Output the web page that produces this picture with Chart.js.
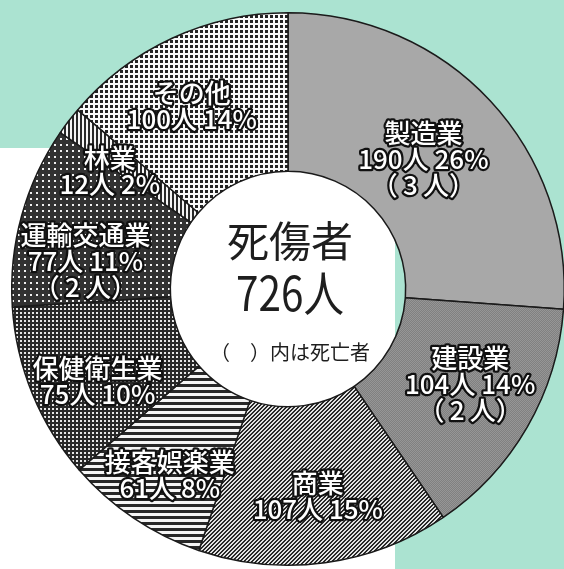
<!DOCTYPE html>
<html>
<head>
<meta charset="utf-8">
<script src="https://cdn.jsdelivr.net/npm/chart.js@4"></script>
<style>
  html, body { margin: 0; padding: 0; overflow: hidden; background: #abe3d1; }
  #wrap { position: relative; width: 564px; height: 569px; overflow: hidden; }
  #paper { position: absolute; left: 0; top: 148px; width: 395px; height: 421px; background: #fff; }
  #myChart { position: absolute; left: 0; top: 0; }
</style>
</head>
<body>
<div id="wrap">
  <div id="paper"></div>
  <canvas id="myChart" width="580" height="569"></canvas>
</div>
<script>
var labels = ['製造業', '建設業', '商業', '接客娯楽業', '保健衛生業', '運輸交通業', '林業', 'その他'];
var persons = [190, 104, 107, 61, 75, 77, 12, 100];
var shares = [26, 14, 15, 8, 10, 11, 2, 14];
var deaths = [3, 2, null, null, null, 2, null, null];

// small offsets so the labels sit where the printed ones do
var labelNudge = [[-17, 12], [2, -9], [2, 1], [-2, 14], [2, 13], [-2, 27], [-13, 9], [-9, 6]];

function tile(w, h, fn) {
    var c = document.createElement('canvas');
    c.width = w; c.height = h;
    var g = c.getContext('2d');
    var img = g.createImageData(w, h);
    for (var y = 0; y < h; y++) {
        for (var x = 0; x < w; x++) {
            var v = fn(x, y);
            var i = (y * w + x) * 4;
            img.data[i] = v; img.data[i + 1] = v; img.data[i + 2] = v; img.data[i + 3] = 255;
        }
    }
    g.putImageData(img, 0, 0);
    return g.createPattern(c, 'repeat');
}

var ctx = document.getElementById('myChart').getContext('2d');
var dark = 40, light = 225;

var fills = [
    '#a8a8a8',
    tile(2, 2, function (x, y) { return (x + y) % 2 ? 128 : 150; }),
    tile(4, 4, function (x, y) { return (x + y) % 4 < 2 ? dark : light; }),
    tile(1, 6, function (x, y) { return y < 3 ? dark : 245; }),
    tile(4, 4, function (x, y) { return (x < 2 && y < 2) ? 230 : 40; }),
    tile(6, 6, function (x, y) { return (x < 2 && y < 2) ? 240 : 50; }),
    tile(4, 1, function (x, y) { return x < 2 ? dark : 245; }),
    tile(5, 5, function (x, y) { return (x < 3 && y < 3) ? 35 : 250; })
];

var total = persons.reduce(function (a, b) { return a + b; }, 0);

function outlined(c, text, x, y) {
    c.strokeText(text, x, y);
    c.fillText(text, x, y);
}

var labelPlugin = {
    id: 'sliceLabels',
    afterDatasetsDraw: function (chart) {
        var c = chart.ctx;
        var arcs = chart.getDatasetMeta(0).data;
        c.save();
        c.textAlign = 'center';
        c.textBaseline = 'middle';
        c.font = '500 26px "Noto Sans CJK JP"';
        c.lineJoin = 'round';
        c.lineWidth = 4.5;
        c.strokeStyle = '#111';
        c.fillStyle = '#fff';
        arcs.forEach(function (arc, i) {
            var p = arc.getProps(['x', 'y', 'startAngle', 'endAngle']);
            var mid = (p.startAngle + p.endAngle) / 2;
            var r = 208;
            var cx = p.x + Math.cos(mid) * r + labelNudge[i][0];
            var cy = p.y + Math.sin(mid) * r + labelNudge[i][1];
            var lines = [labels[i], persons[i] + '人 ' + shares[i] + '%'];
            if (deaths[i] != null) lines.push('（\u2009' + deaths[i] + '\u2009人）');
            var lh = 26;
            var y0 = cy - (lines.length - 1) * lh / 2;
            lines.forEach(function (t, k) { outlined(c, t, cx, y0 + k * lh); });
        });
        // centre text
        var a0 = arcs[0];
        var mx = a0.x + 2;
        c.fillStyle = '#1e1e1e';
        c.font = '42px "Noto Sans CJK JP"';
        c.fillText('死傷者', mx, a0.y - 48);
        c.save();
        c.translate(mx, a0.y + 4);
        c.scale(0.88, 1.05);
        c.font = '46px "Noto Sans CJK JP"';
        c.fillText(total + '人', 0, 0);
        c.restore();
        c.font = '20px "Noto Sans CJK JP"';
        c.fillText('（　）内は死亡者', mx, a0.y + 63);
        c.restore();
    }
};

var myChart = new Chart(ctx, {
    type: 'doughnut',
    data: {
        labels: labels,
        datasets: [{
            data: persons,
            backgroundColor: fills,
            borderColor: '#1a1a1a',
            borderWidth: 1.5
        }]
    },
    options: {
        responsive: false,
        animation: false,
        cutout: '42.6%',
        layout: { padding: { left: 11, right: 15, top: 12, bottom: 3 } },
        plugins: {
            legend: { display: false },
            tooltip: { enabled: false }
        }
    },
    plugins: [labelPlugin]
});
</script>
</body>
</html>
